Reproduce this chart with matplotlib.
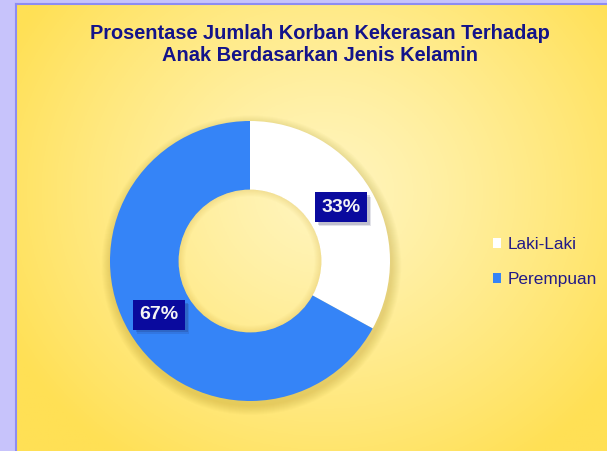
import numpy as np
import matplotlib
matplotlib.use("Agg")
import matplotlib.pyplot as plt
from matplotlib.patches import Wedge
from matplotlib import patheffects as pe

categories = ["Laki-Laki", "Perempuan"]
values = [33, 67]
colors = ["#FFFFFF", "#3584F7"]
title = "Prosentase Jumlah Korban Kekerasan Terhadap\nAnak Berdasarkan Jenis Kelamin"

W, H = 607, 451
fig = plt.figure(figsize=(W / 100, H / 100), dpi=100)
fig.patch.set_facecolor("#C7C3FB")
plt.rcParams['font.family'] = ['Liberation Sans', 'DejaVu Sans']

# background gradient panel
x0, y0 = 16, 4
bg = fig.add_axes([x0 / W, 0, (W - x0) / W, (H - y0) / H])
bg.set_axis_off()
ny, nx = 200, 300
yy, xx = np.mgrid[0:ny, 0:nx]
cx, cy = nx * 0.52, ny * 0.42
d = np.sqrt(((xx - cx) / (nx * 0.6)) ** 2 + ((yy - cy) / (ny * 0.72)) ** 2)
d = np.clip(d, 0, 1)
c_in = np.array([255, 245, 190]) / 255
c_out = np.array([255, 224, 85]) / 255
t = d[..., None] ** 1.2
img = c_in[None, None, :] * (1 - t) + c_out[None, None, :] * t
bg.imshow(img, extent=[0, 1, 0, 1], aspect='auto', origin='upper')
bg.set_xlim(0, 1); bg.set_ylim(0, 1)
fig.add_artist(plt.Line2D([x0 / W - 0.5 / W] * 2, [0, (H - y0) / H], color="#8E8CF2", lw=1.5))
fig.add_artist(plt.Line2D([x0 / W, 1], [(H - y0) / H + 0.5 / H] * 2, color="#8E8CF2", lw=1.5))

fig.text(0.527, 0.947, title, ha='center', va='top', fontsize=14.4,
         fontweight='bold', color='#13138A', linespacing=1.2)

# donut
pcx, pcy, R = 250, 261, 140
ax = fig.add_axes([(pcx - R * 1.1) / W, (H - pcy - R * 1.1) / H, 2.2 * R / W, 2.2 * R / H])
ax.set_xlim(-1.1, 1.1); ax.set_ylim(-1.1, 1.1)
ax.set_aspect('equal'); ax.set_axis_off()

# soft outer shadow (annulus only)
for i in range(10):
    ax.add_patch(Wedge((0.01, -0.03), 1.0 + 0.007 * (i + 1), 0, 360, width=0.05 + 0.007 * (i + 1),
                       facecolor='#9a7a00', alpha=0.022, lw=0, zorder=0))

wedges, texts = ax.pie(values, colors=colors, startangle=90, counterclock=False,
                       radius=1.0, wedgeprops=dict(width=0.49, edgecolor='none'))
ax.set_xlim(-1.1, 1.1); ax.set_ylim(-1.1, 1.1)
# subtle inner hole shading
for i in range(6):
    ax.add_patch(Wedge((0, 0), 0.51, 0, 360, width=0.008 * (i + 1),
                       facecolor='#c9a020', alpha=0.03, lw=0, zorder=3))

for v, w in zip(values, wedges):
    theta = np.deg2rad((w.theta1 + w.theta2) / 2)
    x, y = 0.755 * np.cos(theta), 0.755 * np.sin(theta)
    txt = ax.text(x, y, f"{v}%", ha='center', va='center', fontsize=14,
                  fontweight='bold', color='#F4F4F4', zorder=5,
                  bbox=dict(boxstyle='square,pad=0.32', fc='#0A0A9E', ec='none'))
    txt.get_bbox_patch().set_path_effects([
        pe.SimplePatchShadow(offset=(3, -3), shadow_rgbFace='#202050', alpha=0.12),
        pe.SimplePatchShadow(offset=(2, -2), shadow_rgbFace='#202050', alpha=0.18),
        pe.Normal()])

leg = fig.legend(wedges, categories, loc='center left', bbox_to_anchor=(477 / W, 1 - 262 / H),
                 frameon=False, fontsize=12.4, handlelength=0.5, handleheight=0.5,
                 handletextpad=0.35, labelspacing=1.15, labelcolor='#221A88')

fig.savefig("out.png", dpi=100, facecolor=fig.get_facecolor())
